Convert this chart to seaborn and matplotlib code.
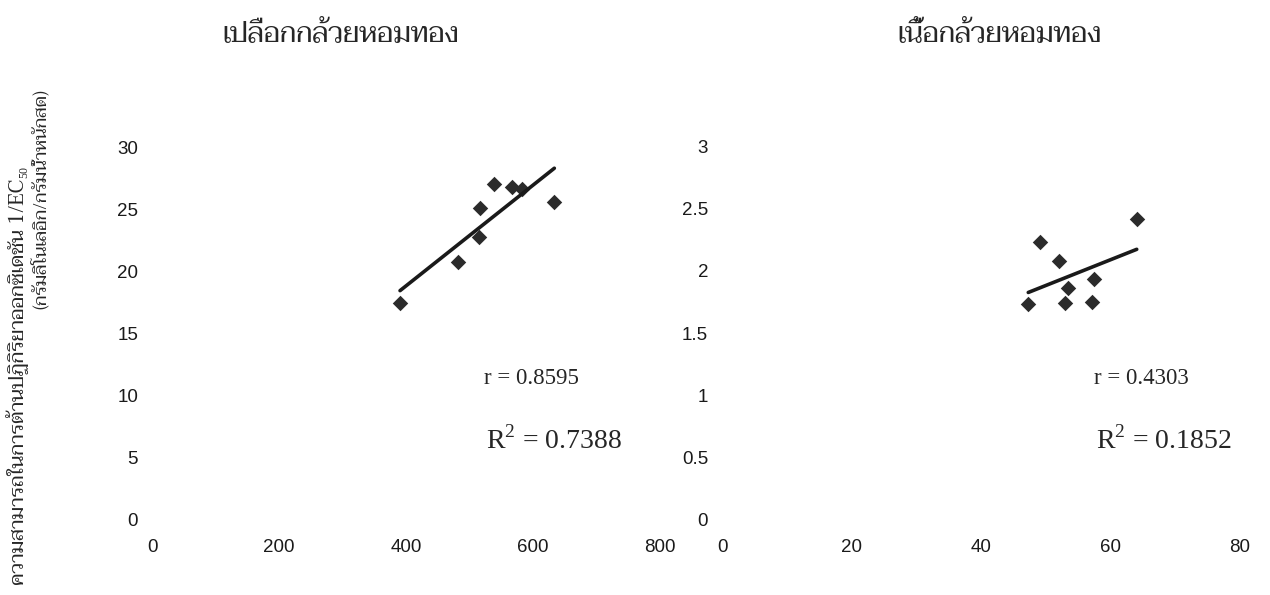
import matplotlib
matplotlib.use("Agg")
import matplotlib.pyplot as plt
from matplotlib import font_manager
from matplotlib.ft2font import FT2Font
import seaborn as sns
import pandas as pd

# Peel data: total phenolics vs. antioxidant capacity 1/EC50
peel_x = [390.6, 482.0, 515.0, 516.5, 539.0, 566.5, 582.0, 633.6]
peel_y = [17.48, 20.78, 22.80, 25.07, 27.03, 26.80, 26.60, 25.60]
# Pulp data
pulp_x = [47.3, 49.1, 52.05, 53.5, 53.0, 57.45, 57.1, 64.05]
pulp_y = [1.730, 2.232, 2.080, 1.864, 1.738, 1.933, 1.751, 2.414]

titles = ["เปลือกกล้วยหอมทอง", "เนื้อกล้วยหอมทอง"]
r_labels = ["r = 0.8595", "r = 0.4303"]
r2_values = ["0.7388", "0.1852"]
ylabel_line1 = "ความสามารถในการต้านปฏิกิริยาออกซิเดชัน 1/EC"
ylabel_sub = "50"
ylabel_line2 = "(กรัมลิโนเลอิก/กรัมน้ำหนักสด)"

peel_xticks = [0, 200, 400, 600, 800]
peel_yticks = [0, 5, 10, 15, 20, 25, 30]
pulp_xticks = [0, 20, 40, 60, 80]
pulp_yticks = [0, 0.5, 1, 1.5, 2, 2.5, 3, 3.5]
pulp_yticklabels = ["0", "0.5", "1", "1.5", "2", "2.5", "3", ""]

sns.set_style("white")


def thai_font():
    """Pick an installed font family that covers Thai script."""
    names = set()
    for f in font_manager.fontManager.ttflist:
        try:
            cm = FT2Font(f.fname).get_charmap()
        except Exception:
            continue
        if 0x0E01 in cm:
            names.add(f.name)
    for p in ["Taviraj", "Trirong", "Noto Serif Thai", "Sarabun", "FreeSerif"]:
        if p in names:
            return p
    return sorted(names)[0] if names else "DejaVu Sans"


thai_family = thai_font()
plt.rcParams["font.family"] = ["Liberation Sans", "DejaVu Sans"]
plt.rcParams["mathtext.fontset"] = "custom"
plt.rcParams["mathtext.rm"] = "Liberation Serif"

fig = plt.figure(figsize=(12.7, 5.95), dpi=100)
ax1 = fig.add_axes([152 / 1270, 75 / 595, 508 / 1270, 373 / 595])
ax2 = fig.add_axes([722 / 1270, 75 / 595, 518 / 1270, (520 - 83.7) / 595])

peel = pd.DataFrame({"x": peel_x, "y": peel_y})
pulp = pd.DataFrame({"x": pulp_x, "y": pulp_y})

for ax, df in [(ax1, peel), (ax2, pulp)]:
    sns.regplot(data=df, x="x", y="y", ax=ax, ci=None, marker="D",
                scatter_kws={"s": 62, "color": "#2b2b2b", "alpha": 1, "linewidths": 0},
                line_kws={"color": "#1a1a1a", "lw": 2.6})
    ax.set_xlabel("")
    ax.set_ylabel("")
    for sp in ax.spines.values():
        sp.set_visible(False)
    ax.tick_params(axis="both", length=3, width=0.8, color="#b0b0b0",
                   labelsize=13.5, labelcolor="#1a1a1a")
    ax.tick_params(axis="x", pad=11)
    ax.tick_params(axis="y", pad=7)
    ax.set_facecolor("none")

ax1.set_xlim(0, 800)
ax1.set_ylim(0, 30)
ax1.set_xticks(peel_xticks)
ax1.set_yticks(peel_yticks)
ax2.set_xlim(0, 80)
ax2.set_ylim(0, 3.5)
ax2.set_xticks(pulp_xticks)
ax2.set_yticks(pulp_yticks)
ax2.set_yticklabels(pulp_yticklabels)

serif = ["Liberation Serif", "DejaVu Serif"]
for xc, rl, r2 in [(531, r_labels[0], r2_values[0]), (1141, r_labels[1], r2_values[1])]:
    fig.text(xc / 1270, 1 - 378 / 595, rl, family=serif, fontsize=16.5,
             ha="center", va="center")
    fig.text((xc - 45) / 1270, 1 - 440 / 595,
             r"R$^{\mathregular{2}}$ = " + r2, family=serif, fontsize=20,
             ha="left", va="center")

thai = [thai_family, "Liberation Serif", "DejaVu Sans"]
fig.text(341 / 1270, 1 - 35 / 595, titles[0], family=thai,
         fontsize=20, ha="center", va="center")
fig.text(1000 / 1270, 1 - 35 / 595, titles[1], family=thai,
         fontsize=20, ha="center", va="center")

t1 = fig.text(18 / 1270, 1 - 382 / 595, ylabel_line1, family=thai,
              fontsize=14.5, rotation=90, ha="center", va="center")
fig.text(40 / 1270, 1 - 199 / 595, ylabel_line2, family=thai,
         fontsize=13, rotation=90, ha="center", va="center")

# subscript "50" placed right after the rotated first label line
fig.canvas.draw()
bb = t1.get_window_extent()
fig.text((bb.x1 + 1) / 1270, (bb.y1 + 1) / 595, ylabel_sub, family=serif,
         fontsize=8.5, rotation=90, ha="right", va="bottom")

fig.savefig("out.png", dpi=100)
